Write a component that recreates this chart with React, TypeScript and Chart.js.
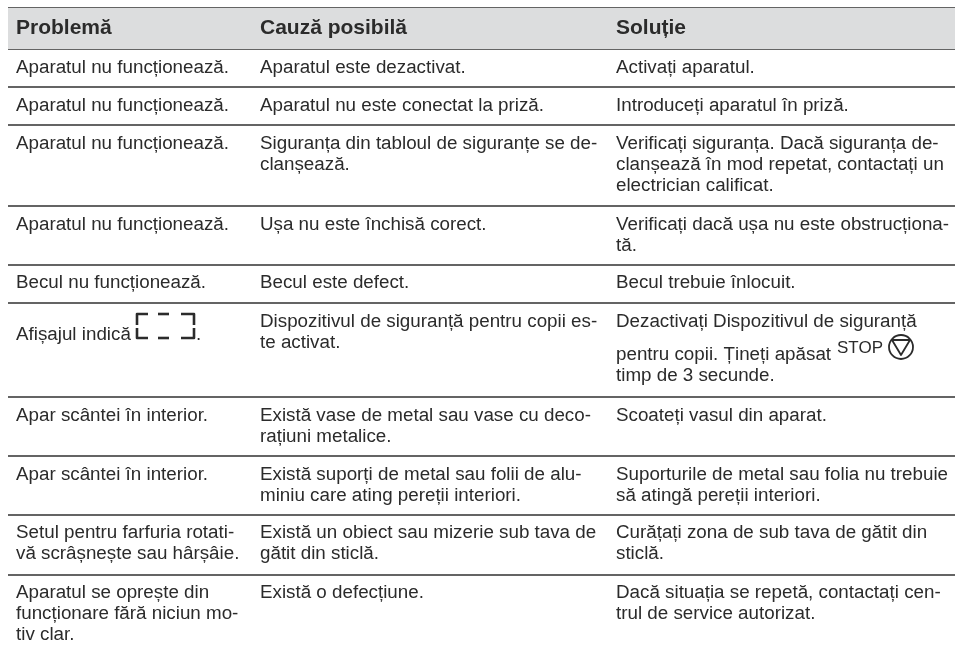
import React, { useEffect, useRef } from "react";
import { Chart, registerables } from "chart.js";

Chart.register(...registerables);

const headers = ["Problemă", "Cauză posibilă", "Soluție"];
const columnX = [16, 260, 616];

const problems = [
  ["Aparatul nu funcționează."],
  ["Aparatul nu funcționează."],
  ["Aparatul nu funcționează."],
  ["Aparatul nu funcționează."],
  ["Becul nu funcționează."],
  ["Afișajul indică"],
  ["Apar scântei în interior."],
  ["Apar scântei în interior."],
  ["Setul pentru farfuria rotati-", "vă scrâșnește sau hârșâie."],
  ["Aparatul se oprește din", "funcționare fără niciun mo-", "tiv clar."],
];
const causes = [
  ["Aparatul este dezactivat."],
  ["Aparatul nu este conectat la priză."],
  ["Siguranța din tabloul de siguranțe se de-", "clanșează."],
  ["Ușa nu este închisă corect."],
  ["Becul este defect."],
  ["Dispozitivul de siguranță pentru copii es-", "te activat."],
  ["Există vase de metal sau vase cu deco-", "rațiuni metalice."],
  ["Există suporți de metal sau folii de alu-", "miniu care ating pereții interiori."],
  ["Există un obiect sau mizerie sub tava de", "gătit din sticlă."],
  ["Există o defecțiune."],
];
const solutions = [
  ["Activați aparatul."],
  ["Introduceți aparatul în priză."],
  ["Verificați siguranța. Dacă siguranța de-", "clanșează în mod repetat, contactați un", "electrician calificat."],
  ["Verificați dacă ușa nu este obstrucționa-", "tă."],
  ["Becul trebuie înlocuit."],
  ["Dezactivați Dispozitivul de siguranță", "pentru copii. Țineți apăsat", "timp de 3 secunde."],
  ["Scoateți vasul din aparat."],
  ["Suporturile de metal sau folia nu trebuie", "să atingă pereții interiori."],
  ["Curățați zona de sub tava de gătit din", "sticlă."],
  ["Dacă situația se repetă, contactați cen-", "trul de service autorizat."],
];

const ruleLevels = [8, 49, 87, 125, 206, 265, 303, 397, 456, 515, 575];
const headerBaseline = 34;
const firstBaselines = [73, 111, 149, 230, 288, 327, 421, 480, 538, 598];
const iconRowBaseline = 340;
const lineStep = 21;
const stopRowOffsets = [0, 33, 54];

const tablePlugin = {
  id: "tableText",
  afterDatasetsDraw(chart: any) {
    const { ctx, scales } = chart;
    const X = (v: number) => scales.x.getPixelForValue(v);
    const Y = (v: number) => scales.y.getPixelForValue(v);
    ctx.save();
    ctx.textBaseline = "alphabetic";
    ctx.textAlign = "left";
    ctx.fillStyle = "#2b2b2b";
    ctx.font = "bold 21px 'Liberation Sans'";
    headers.forEach((h, i) => ctx.fillText(h, X(columnX[i]), Y(headerBaseline)));
    ctx.font = "18.8px 'Liberation Sans'";
    [problems, causes, solutions].forEach((col, c) => {
      col.forEach((lines, r) => {
        lines.forEach((t, l) => {
          let y = firstBaselines[r] + l * lineStep;
          if (c === 0 && r === 5) y = iconRowBaseline;
          if (c === 2 && r === 5) y = firstBaselines[r] + stopRowOffsets[l];
          ctx.fillText(t, X(columnX[c]), Y(y));
        });
      });
    });
    ctx.fillText(".", X(196), Y(iconRowBaseline));
    ctx.font = "17px 'Liberation Sans'";
    ctx.fillText("STOP", X(837), Y(353));

    // display symbol
    ctx.strokeStyle = "#2b2b2b";
    ctx.lineWidth = 2.6;
    ctx.lineJoin = "round";
    const segs = [
      [148, 314, 137, 314, 137, 325],
      [137, 328, 137, 338, 148, 338],
      [158, 314, 169, 314],
      [158, 338, 169, 338],
      [181, 314, 194, 314, 194, 325],
      [194, 328, 194, 338, 181, 338],
    ];
    segs.forEach((s) => {
      ctx.beginPath();
      ctx.moveTo(X(s[0]), Y(s[1]));
      for (let i = 2; i < s.length; i += 2) ctx.lineTo(X(s[i]), Y(s[i + 1]));
      ctx.stroke();
    });

    // stop symbol
    ctx.lineWidth = 1.8;
    ctx.beginPath();
    ctx.arc(X(901), Y(347), 12, 0, Math.PI * 2);
    ctx.stroke();
    ctx.beginPath();
    ctx.moveTo(X(892), Y(340));
    ctx.lineTo(X(910), Y(340));
    ctx.lineTo(X(901), Y(355));
    ctx.closePath();
    ctx.stroke();
    ctx.restore();
  },
};

export default function App() {
  const ref = useRef<HTMLCanvasElement>(null);
  useEffect(() => {
    if (!ref.current) return;
    const band = {
      data: [
        { x: 8, y: ruleLevels[0] },
        { x: 955, y: ruleLevels[0] },
      ],
      showLine: true,
      borderWidth: 0,
      pointRadius: 0,
      backgroundColor: "#dcddde",
      fill: { value: ruleLevels[1] },
    };
    const rules = ruleLevels.map((y) => ({
      data: [
        { x: 8, y },
        { x: 955, y },
      ],
      showLine: true,
      borderColor: "#303030",
      borderWidth: 1.6,
      pointRadius: 0,
      fill: false,
    }));
    const chart = new Chart(ref.current, {
      type: "scatter",
      data: { datasets: [band, ...rules] as any },
      options: {
        animation: false,
        responsive: false,
        events: [],
        layout: { padding: 0 },
        plugins: { legend: { display: false }, tooltip: { enabled: false }, title: { display: false } },
        scales: {
          x: { type: "linear", min: 0, max: 955, display: false },
          y: { type: "linear", min: 0, max: 651, reverse: true, display: false },
        },
      },
      plugins: [tablePlugin],
    });
    return () => chart.destroy();
  }, []);
  return (
    <canvas
      ref={ref}
      width={955}
      height={651}
      style={{ position: "absolute", left: 0, top: 0, display: "block" }}
    />
  );
}
